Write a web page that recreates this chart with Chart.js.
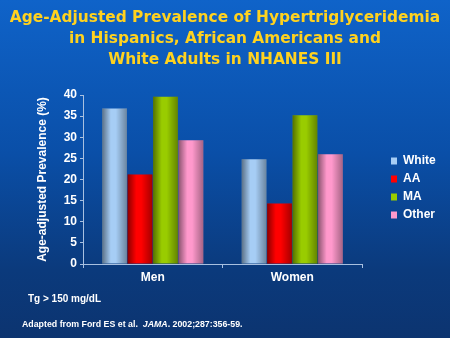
<!DOCTYPE html>
<html lang="en">
<head>
    <meta charset="UTF-8">
    <title>Hypertriglyceridemia NHANES III</title>
    <script src="https://cdn.jsdelivr.net/npm/chart.js@4.4.1/dist/chart.umd.min.js"></script>
    <style>
        html, body { margin: 0; padding: 0; }
        body {
            width: 450px; height: 338px; overflow: hidden; position: relative;
            background: linear-gradient(to bottom, #0f63c9 0%, #0a4fa8 45%, #0b3a7c 80%, #0c3470 100%);
            font-family: "Liberation Sans", Arial, sans-serif;
        }
        #title {
            position: absolute; left: 0; top: 7px; width: 450px;
            text-align: center; color: #ffd21f;
            font-family: "DejaVu Sans", Verdana, sans-serif; font-weight: bold;
            font-size: 15.4px; line-height: 21px;
        }
        #canvas-wrap { position: absolute; left: 0; top: 0; width: 450px; height: 338px; }
        .note { position: absolute; color: #ffffff; font-weight: bold; white-space: nowrap; }
        #tg { left: 28px; top: 293px; font-size: 10px; }
        #src { left: 22px; top: 319px; font-size: 8.8px; }
    </style>
</head>
<body>
    <div id="canvas-wrap"><canvas id="chart" width="450" height="338"></canvas></div>

    <div id="title">Age-Adjusted Prevalence of Hypertriglyceridemia<br>in Hispanics, African Americans and<br>White Adults in NHANES III</div>
    <div class="note" id="tg">Tg &gt; 150 mg/dL</div>
    <div class="note" id="src">Adapted from Ford ES et al.&nbsp; <i>JAMA</i>. 2002;287:356-59.</div>

    <script>
        // data
        const groups = ['Men', 'Women'];
        const seriesNames = ['White', 'AA', 'MA', 'Other'];
        const white = [36.8, 24.8];
        const aa = [21.2, 14.3];
        const ma = [39.6, 35.2];
        const other = [29.3, 26.0];
        const barColors = ['#a6cdf5', '#ff0000', '#99cc00', '#ff99cc'];

        const axisColor = '#a8c0e0';

        // cylinder-ish shading on each bar
        const shadePlugin = {
            id: 'shade',
            afterDatasetsDraw(chart) {
                const ctx = chart.ctx;
                chart.data.datasets.forEach(function (ds, i) {
                    chart.getDatasetMeta(i).data.forEach(function (bar) {
                        const left = bar.x - bar.width / 2;
                        const g = ctx.createLinearGradient(left, 0, left + bar.width, 0);
                        g.addColorStop(0, 'rgba(0,0,0,0.45)');
                        g.addColorStop(0.35, 'rgba(0,0,0,0)');
                        g.addColorStop(0.55, 'rgba(0,0,0,0)');
                        g.addColorStop(1, 'rgba(0,0,0,0.35)');
                        ctx.save();
                        ctx.fillStyle = g;
                        ctx.fillRect(left, bar.y, bar.width, bar.base - bar.y);
                        ctx.restore();
                    });
                });
            }
        };

        // pin the legend where the slide has it
        const legendPlace = {
            id: 'legendPlace',
            beforeInit(chart) {
                const fit = chart.legend.fit;
                chart.legend.fit = function () {
                    fit.call(this);
                    this.width = 88;
                };
            },
            afterLayout(chart) {
                const lg = chart.legend;
                const h = lg.bottom - lg.top;
                lg.left = 385;
                lg.right = 450;
                lg.top = 149;
                lg.bottom = 149 + h;
            }
        };

        new Chart(document.getElementById('chart'), {
            type: 'bar',
            data: {
                labels: groups,
                datasets: [
                    { label: seriesNames[0], data: white, backgroundColor: barColors[0] },
                    { label: seriesNames[1], data: aa, backgroundColor: barColors[1] },
                    { label: seriesNames[2], data: ma, backgroundColor: barColors[2] },
                    { label: seriesNames[3], data: other, backgroundColor: barColors[3] }
                ]
            },
            options: {
                responsive: false,
                animation: false,
                layout: { padding: { top: 95, left: 0, right: 0, bottom: 0 } },
                datasets: { bar: { barPercentage: 0.97, categoryPercentage: 0.73 } },
                plugins: {
                    title: { display: false },
                    tooltip: { enabled: false },
                    legend: {
                        position: 'right',
                        align: 'start',
                        labels: {
                            color: '#ffffff',
                            font: { family: 'Liberation Sans', size: 12, weight: 'bold' },
                            boxWidth: 6,
                            boxHeight: 7,
                            padding: 6
                        }
                    }
                },
                scales: {
                    x: {
                        afterFit(scale) { scale.height = 74; },
                        border: { color: axisColor, width: 1 },
                        grid: { display: true, offset: true, drawOnChartArea: false, tickLength: 4, color: axisColor },
                        ticks: {
                            color: '#ffffff', padding: 2,
                            font: { family: 'Liberation Sans', size: 12, weight: 'bold' }
                        }
                    },
                    y: {
                        min: 0,
                        max: 40,
                        afterFit(scale) { scale.width = 83; },
                        border: { color: axisColor, width: 1 },
                        grid: { drawOnChartArea: false, tickLength: 3, color: axisColor },
                        ticks: {
                            stepSize: 5, color: '#ffffff', padding: 3,
                            font: { family: 'Liberation Sans', size: 12, weight: 'bold' }
                        },
                        title: {
                            display: true,
                            text: 'Age-adjusted Prevalence (%)',
                            color: '#ffffff',
                            font: { family: 'Liberation Sans', size: 12, weight: 'bold' },
                            padding: { top: 35, bottom: 0 }
                        }
                    }
                }
            },
            plugins: [shadePlugin, legendPlace]
        });
    </script>
</body>
</html>
